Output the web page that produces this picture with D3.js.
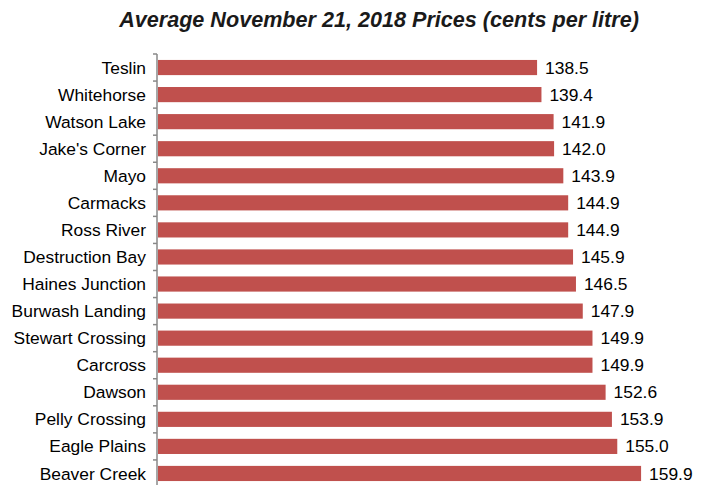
<!DOCTYPE html>
<html><head><meta charset="utf-8">
<script src="https://cdn.jsdelivr.net/npm/d3@7"></script>
<style>body{margin:0;background:#fff;}svg{display:block;}</style>
</head><body>
<svg id="chart" width="703" height="485"></svg>
<script>
const categories = ["Teslin","Whitehorse","Watson Lake","Jake's Corner","Mayo","Carmacks","Ross River","Destruction Bay","Haines Junction","Burwash Landing","Stewart Crossing","Carcross","Dawson","Pelly Crossing","Eagle Plains","Beaver Creek"];
const prices = [138.5,139.4,141.9,142.0,143.9,144.9,144.9,145.9,146.5,147.9,149.9,149.9,152.6,153.9,155.0,159.9];
const titleText = "Average November 21, 2018 Prices (cents per litre)";

(function(){
const svg = d3.select("#chart");
const font = "'Liberation Sans', Arial, sans-serif";
const axisX = 157, plotTop = 54, plotBottom = 487;
const xMin = 60.5;

const y = d3.scaleBand().domain(categories).range([plotTop, plotBottom]).paddingInner(0.44).paddingOuter(0.22);
const x = d3.scaleLinear().domain([xMin, 170]).range([axisX + 1, axisX + 1 + (170 - xMin) * 4.86]);

svg.append("text").attr("x", 379).attr("y", 27).attr("text-anchor", "middle")
  .attr("font-family", font).attr("font-size", 21.6).attr("font-weight", "bold").attr("font-style", "italic")
  .attr("fill", "#1a1a1a").text(titleText);

svg.selectAll("rect.bar").data(categories).enter().append("rect")
  .attr("class", "bar")
  .attr("x", x(xMin)).attr("y", d => y(d))
  .attr("width", (d, i) => x(prices[i]) - x(xMin))
  .attr("height", y.bandwidth())
  .attr("fill", "#C0504D");

svg.selectAll("text.val").data(categories).enter().append("text")
  .attr("class", "val")
  .attr("x", (d, i) => x(prices[i]) + 8)
  .attr("y", d => y(d) + y.bandwidth() / 2)
  .attr("dy", "0.35em")
  .attr("font-family", font).attr("font-size", 17.4).attr("fill", "#000")
  .text((d, i) => prices[i].toFixed(1));

const axisG = svg.append("g").attr("transform", `translate(${axisX},0)`);
axisG.append("line").attr("x1", 0).attr("x2", 0).attr("y1", plotTop).attr("y2", plotBottom)
  .attr("stroke", "#888").attr("stroke-width", 1.5);
const tickYs = d3.range(categories.length + 1).map(i => plotTop + i * (plotBottom - plotTop) / categories.length);
axisG.selectAll("line.tick").data(tickYs).enter().append("line")
  .attr("class", "tick").attr("x1", -4).attr("x2", 0).attr("y1", d => d).attr("y2", d => d)
  .attr("stroke", "#888").attr("stroke-width", 1.5);
axisG.selectAll("text.lab").data(categories).enter().append("text")
  .attr("class", "lab")
  .attr("x", -11).attr("y", d => y(d) + y.bandwidth() / 2).attr("dy", "0.35em")
  .attr("text-anchor", "end").attr("font-family", font).attr("font-size", 17.4).attr("fill", "#000")
  .text(d => d);
})();
</script>
</body></html>
